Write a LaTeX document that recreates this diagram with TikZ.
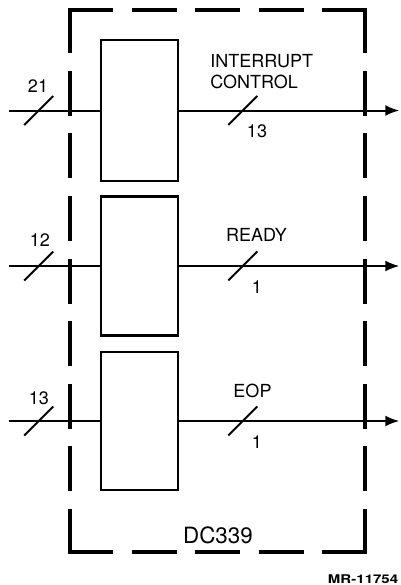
\documentclass[tikz,border=0pt]{standalone}
\usepackage{fontspec}
\setmainfont{TeX Gyre Heros}
\usetikzlibrary{arrows.meta}
\begin{document}
\begin{tikzpicture}[x=0.5pt,y=-0.5pt,
  blk/.style={draw, line width=1.3pt, minimum width=38.5pt, inner sep=0pt, fill=white},
  sig/.style={line width=1pt},
  outsig/.style={sig, -{Latex[length=7pt,width=5.5pt]}},
  tick/.style={line width=1pt},
  lbl/.style={font=\fontsize{9}{10.5}\selectfont, inner sep=0pt},
  border/.style={line width=2pt, line cap=rect}]
\useasboundingbox (0,0) rectangle (401,585);
% blocks
\node[blk, minimum height=70.5pt] (b1) at (139.5,110.5) {};
\node[blk, minimum height=69.5pt] (b2) at (139.5,266) {};
\node[blk, minimum height=69pt] (b3) at (139.5,421) {};
% end points and slash centres
\foreach \b in {b1,b2,b3}{
  \path (\b.west) ++(-91,0) coordinate (\b in);
  \path (\b.east) ++(220,0) coordinate (\b out);
  \path (\b.west) ++(-61,0) coordinate (\b sin);
  \path (\b.east) ++(63.5,0) coordinate (\b sout);
  \draw[sig] (\b in) -- (\b.west);
  \draw[outsig] (\b.east) -- (\b out);
  \draw[tick] (\b sin) +(-14.5,14.5) -- +(14.5,-14.5);
  \draw[tick] (\b sout) +(-14.5,14.5) -- +(14.5,-14.5);
}
% dashed border
\coordinate (tl) at (70,10);
\coordinate (tr) at (365,10);
\coordinate (bl) at (70,552);
\coordinate (br) at (365,552);
\draw[border, dash pattern=on 20.5pt off 11.25pt] (tl) -- (tr);
\draw[border, dash pattern=on 20.5pt off 11.25pt] (bl) -- (br);
\draw[border, dash pattern=on 20.5pt off 10.8125pt] (tl) -- (bl);
\draw[border, dash pattern=on 20.5pt off 10.8125pt] (tr) -- (br);
% labels
\node[lbl] (l21) at (38,86) {21};
\node[lbl] (l13o) at (257,131) {13};
\node[lbl, align=left, anchor=west] (lic) at (210,72) {INTERRUPT\\CONTROL};
\node[lbl] (l12) at (40,240) {12};
\node[lbl] (lready) at (256.5,235) {READY};
\node[lbl] (l1a) at (257,287.5) {1};
\node[lbl] (l13i) at (39,398) {13};
\node[lbl] (leop) at (252.5,391) {EOP};
\node[lbl] (l1b) at (257,442.5) {1};
\node[font=\fontsize{11.2}{13}\selectfont, inner sep=0pt] (dc) at (218,535) {DC339};
\node[font=\bfseries\fontsize{6}{7}\selectfont, inner sep=0pt] (mr) at (363,579) {\scalebox{1.25}[1]{MR-11754}};
\end{tikzpicture}
\end{document}
